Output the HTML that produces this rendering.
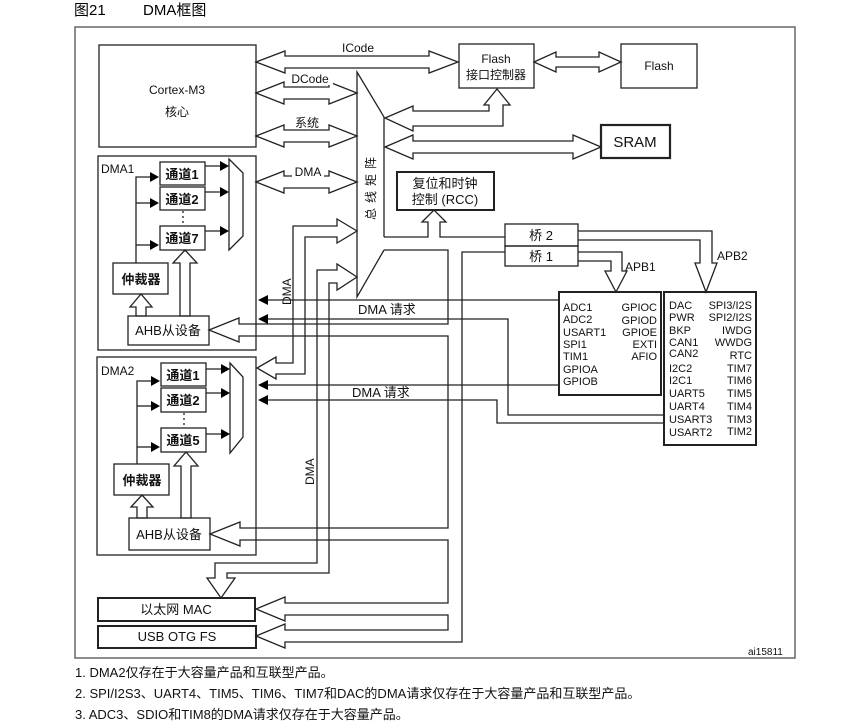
<!DOCTYPE html>
<html><head><meta charset="utf-8"><style>
html,body{margin:0;padding:0;background:#fff;}
svg{display:block;font-family:"Liberation Sans","Noto Sans CJK SC",sans-serif;}
</style></head><body>
<svg width="864" height="726" viewBox="0 0 864 726" xmlns="http://www.w3.org/2000/svg">
<g fill="#000">
<text x="74" y="15" font-size="15">图21</text>
<text x="143" y="15" font-size="15">DMA框图</text>
</g>
<rect x="75" y="27" width="720" height="631" fill="none" stroke="#666" stroke-width="1.5"/>
<g fill="none" stroke="#222" stroke-width="1.3">
<!-- Cortex -->
<rect x="99" y="45" width="157" height="102"/>
<rect x="459" y="44" width="75" height="44"/>
<rect x="621" y="44" width="76" height="44"/>
<rect x="601" y="125" width="69" height="33" stroke-width="2.2"/>
<rect x="397" y="172" width="97" height="38" stroke-width="2"/>
<rect x="505" y="224" width="73" height="22"/>
<rect x="505" y="246" width="73" height="20"/>
<rect x="559" y="292" width="102" height="103" stroke-width="2"/>
<rect x="664" y="292" width="92" height="153" stroke-width="2"/>
<rect x="98" y="156" width="158" height="194"/>
<rect x="97" y="357" width="159" height="198"/>
<rect x="98" y="598" width="157" height="23" stroke-width="2"/>
<rect x="98" y="626" width="158" height="22" stroke-width="2"/>
<!-- arrows double -->
<polygon points="256,62 285,51 285,56 429,56 429,51 458,62 429,73 429,68 285,68 285,73"/>
<polygon points="534,62 556,52 556,57 599,57 599,52 621,62 599,72 599,67 556,67 556,72"/>
<polygon points="256,93 284,82 284,87 329,87 329,82 357,93 329,104 329,99 284,99 284,104"/>
<polygon points="256,136 284,125 284,130 329,130 329,125 357,136 329,147 329,142 284,142 284,147"/>
<polygon points="256,182 284,171 284,176 329,176 329,171 357,182 329,193 329,188 284,188 284,193"/>
<polygon points="385,118 413,106 413,111 489,111 489,105 484,105 497,89 510,105 503,105 503,126 413,126 413,131"/>
<polygon points="385,147 413,135 413,141 573,141 573,135 601,147 573,159 573,153 413,153 413,159"/>
<!-- bus matrix -->
<polyline points="384,237 384,117 357,72 357,297 384,250"/>
<polyline points="384,237 428,237 428,222 422,222 434,210 446,222 440,222 440,237 505,237"/>
<polyline points="384,250 448,250 448,324 239,324 239,318 209,330 239,342 239,336 448,336 448,528 240,528 240,522 210,534 240,546 240,540 448,540 448,603 285,603 285,597 256,609 285,621 285,615 448,615 448,630 285,630 285,624 256,636 285,648 285,642 462,642 462,252 505,252"/>
<!-- APB -->
<polyline points="578,252 622,252 622,271 627,271 616,292 605,271 611,271 611,261 578,261"/>
<polyline points="578,231 712,231 712,263 717,263 706,292 695,263 700,263 700,240 578,240"/>
<!-- DMA master arrows -->
<polygon points="357,231 337,219 337,226 293,226 293,363 276,363 276,357 257,368 276,379 276,374 305,374 305,237 337,237 337,243"/>
<polygon points="357,277 337,264 337,270 317,270 317,563 215,563 215,578 207,578 221,598 235,578 227,578 227,573 329,573 329,283 337,283 337,290"/>
<!-- request lines -->
<polyline points="560,300 262,300"/>
<polyline points="664,415 508,415 508,319 262,319"/>
<polyline points="560,385 262,385"/>
<polyline points="664,423 497,423 497,400 262,400"/>
<!-- DMA1 internals -->
<rect x="160" y="162" width="45" height="23"/>
<rect x="160" y="187" width="45" height="23"/>
<rect x="160" y="226" width="45" height="24"/>
<polygon points="229,159 243,173 243,236 229,250"/>
<rect x="113" y="263" width="55" height="31"/>
<rect x="128" y="316" width="81" height="29"/>
<polyline points="136,263 136,177 152,177"/>
<polyline points="136,203 152,203"/>
<polyline points="136,245 152,245"/>
<polyline points="205,166 222,166"/><polyline points="205,192 222,192"/><polyline points="205,231 222,231"/>
<polygon points="136,316 136,307 130,307 141,294 152,307 146,307 146,316"/>
<polygon points="180,316 180,263 173,263 185,250 197,263 190,263 190,316"/>
<line x1="183" y1="211" x2="183" y2="225" stroke-dasharray="2,3"/>
<!-- DMA2 internals -->
<rect x="161" y="363" width="45" height="23"/>
<rect x="161" y="388" width="45" height="24"/>
<rect x="161" y="428" width="45" height="24"/>
<polygon points="230,363 243,377 243,437 230,453"/>
<rect x="114" y="464" width="55" height="31"/>
<rect x="129" y="518" width="81" height="32"/>
<polyline points="137,464 137,381 153,381"/>
<polyline points="137,406 153,406"/>
<polyline points="137,447 153,447"/>
<polyline points="206,369 223,369"/><polyline points="206,393 223,393"/><polyline points="206,434 223,434"/>
<polygon points="137,518 137,507 131,507 142,495 153,507 147,507 147,518"/>
<polygon points="181,518 181,466 174,466 186,452 198,466 191,466 191,518"/>
<line x1="184" y1="413" x2="184" y2="427" stroke-dasharray="2,3"/>
</g>
<g fill="#000">
<polygon points="258,300 268,295 268,305"/><polygon points="258,319 268,314 268,324"/>
<polygon points="258,385 268,380 268,390"/><polygon points="258,400 268,395 268,405"/>
<polygon points="159,177 150,172 150,182"/><polygon points="159,203 150,198 150,208"/><polygon points="159,245 150,240 150,250"/>
<polygon points="229,166 220,161 220,171"/><polygon points="229,192 220,187 220,197"/><polygon points="229,231 220,226 220,236"/>
<polygon points="160,381 151,376 151,386"/><polygon points="160,406 151,401 151,411"/><polygon points="160,447 151,442 151,452"/>
<polygon points="230,369 221,364 221,374"/><polygon points="230,393 221,388 221,398"/><polygon points="230,434 221,429 221,439"/>
</g>
<g fill="#fff">
<rect x="338" y="43" width="40" height="11"/>
<rect x="287" y="72" width="46" height="13"/>
<rect x="290" y="115" width="34" height="13"/>
<rect x="292" y="165" width="32" height="12"/>
</g>
<g fill="#111" font-size="12">
<text x="358" y="52" text-anchor="middle">ICode</text>
<text x="310" y="83" text-anchor="middle">DCode</text>
<text x="307" y="127" text-anchor="middle">系统</text>
<text x="308" y="176" text-anchor="middle">DMA</text>
<text x="177" y="94" text-anchor="middle">Cortex-M3</text>
<text x="177" y="116" text-anchor="middle">核心</text>
<text x="496" y="63" text-anchor="middle">Flash</text>
<text x="496" y="79" text-anchor="middle">接口控制器</text>
<text x="659" y="70" text-anchor="middle">Flash</text>
<text x="635" y="147" text-anchor="middle" font-size="15">SRAM</text>
<text x="445" y="188" text-anchor="middle" font-size="13">复位和时钟</text>
<text x="445" y="204" text-anchor="middle" font-size="13">控制 (RCC)</text>
<text x="541" y="240" text-anchor="middle" font-size="13">桥  2</text>
<text x="541" y="261" text-anchor="middle" font-size="13">桥  1</text>
<text x="625" y="271">APB1</text>
<text x="717" y="260">APB2</text>
<text transform="translate(375,220) rotate(-90)" font-size="12" letter-spacing="5">总线矩阵</text>
<text transform="translate(291,305) rotate(-90)" font-size="12">DMA</text>
<text transform="translate(314,485) rotate(-90)" font-size="12">DMA</text>
<text x="358" y="314" font-size="13">DMA  请求</text>
<text x="352" y="397" font-size="13">DMA  请求</text>
<text x="101" y="173">DMA1</text>
<text x="101" y="375">DMA2</text>
<g font-size="13" font-weight="bold">
<text x="182" y="179" text-anchor="middle">通道1</text>
<text x="182" y="204" text-anchor="middle">通道2</text>
<text x="182" y="243" text-anchor="middle">通道7</text>
<text x="183" y="380" text-anchor="middle">通道1</text>
<text x="183" y="405" text-anchor="middle">通道2</text>
<text x="183" y="445" text-anchor="middle">通道5</text>
<text x="141" y="284" text-anchor="middle">仲裁器</text>
<text x="142" y="485" text-anchor="middle">仲裁器</text>
</g>
<text x="168" y="335" text-anchor="middle" font-size="13">AHB从设备</text>
<text x="169" y="539" text-anchor="middle" font-size="13">AHB从设备</text>
<text x="176" y="614" text-anchor="middle" font-size="13">以太网 MAC</text>
<text x="177" y="641" text-anchor="middle" font-size="13">USB OTG FS</text>
<g font-size="11">
<text x="563" y="311">ADC1</text><text x="563" y="323">ADC2</text><text x="563" y="336">USART1</text><text x="563" y="348">SPI1</text><text x="563" y="360">TIM1</text><text x="563" y="373">GPIOA</text><text x="563" y="385">GPIOB</text>
<g text-anchor="end"><text x="657" y="311">GPIOC</text><text x="657" y="324">GPIOD</text><text x="657" y="336">GPIOE</text><text x="657" y="348">EXTI</text><text x="657" y="360">AFIO</text></g>
<text x="669" y="309">DAC</text><text x="669" y="321">PWR</text><text x="669" y="334">BKP</text><text x="669" y="346">CAN1</text><text x="669" y="357">CAN2</text><text x="669" y="372">I2C2</text><text x="669" y="384">I2C1</text><text x="669" y="397">UART5</text><text x="669" y="410">UART4</text><text x="669" y="423">USART3</text><text x="669" y="436">USART2</text>
<g text-anchor="end"><text x="752" y="309">SPI3/I2S</text><text x="752" y="321">SPI2/I2S</text><text x="752" y="334">IWDG</text><text x="752" y="346">WWDG</text><text x="752" y="359">RTC</text><text x="752" y="372">TIM7</text><text x="752" y="384">TIM6</text><text x="752" y="397">TIM5</text><text x="752" y="410">TIM4</text><text x="752" y="423">TIM3</text><text x="752" y="435">TIM2</text></g>
<text x="748" y="655" font-size="10">ai15811</text>
</g>
<text x="75" y="677" font-size="13">1.  DMA2仅存在于大容量产品和互联型产品。</text>
<text x="75" y="698" font-size="13">2.  SPI/I2S3、UART4、TIM5、TIM6、TIM7和DAC的DMA请求仅存在于大容量产品和互联型产品。</text>
<text x="75" y="719" font-size="13">3.  ADC3、SDIO和TIM8的DMA请求仅存在于大容量产品。</text>
</g>
</svg>
</body></html>
